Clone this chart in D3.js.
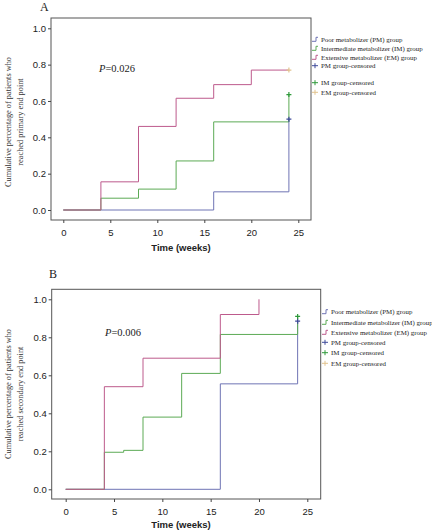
<!DOCTYPE html>
<html><head><meta charset="utf-8">
<script src="https://cdn.jsdelivr.net/npm/d3@7/dist/d3.min.js"></script>
<style>body{margin:0;background:#fff}svg{display:block}</style>
</head><body>
<svg id="c" width="432" height="531"></svg>
<script>
// ---- Data ----
const xTicks = [0, 5, 10, 15, 20, 25];
const yTicks = [0, 0.2, 0.4, 0.6, 0.8, 1.0];
const legendLabels = [
  "Poor metabolizer (PM) group",
  "Intermediate metabolizer (IM) group",
  "Extensive metabolizer (EM) group",
  "PM group-censored",
  "IM group-censored",
  "EM group-censored"
];
// Panel A: primary end point (step times, cumulative values)
const aPM_t = [0, 16, 24];        const aPM_v = [0, 0.10, 0.50];
const aIM_t = [0, 4, 8, 12, 16, 24]; const aIM_v = [0, 0.065, 0.115, 0.27, 0.485, 0.635];
const aEM_t = [0, 4, 8, 12, 16, 20, 24]; const aEM_v = [0, 0.155, 0.46, 0.615, 0.69, 0.77, 0.77];
const aCens = [[24, 0.50, "PM"], [24, 0.635, "IM"], [24, 0.77, "EM"]];
// Panel B: secondary end point
const bPM_t = [0, 16, 24];        const bPM_v = [0, 0.555, 0.885];
const bIM_t = [0, 4, 6, 8, 12, 16, 24]; const bIM_v = [0, 0.195, 0.205, 0.38, 0.61, 0.815, 0.91];
const bEM_t = [0, 4, 8, 16, 20];   const bEM_v = [0, 0.54, 0.69, 0.92, 1.0];
const bCens = [[24, 0.885, "PM"], [24, 0.91, "IM"]];

const colors = {PM: "#6f74b4", IM: "#5caa55", EM: "#bd5a8c"};
const censColors = {PM: "#3f4a9a", IM: "#2e9a3a", EM: "#e2c38e"};

const svg = d3.select("#c");

function panel(cfg) {
  const g = svg.append("g");
  const x = d3.scaleLinear().domain([0, 25]).range([cfg.x0, cfg.x25]);
  const y = d3.scaleLinear().domain([0, 1]).range([cfg.y0, cfg.y1]);
  // frame
  g.append("rect").attr("x", cfg.left).attr("y", cfg.top)
    .attr("width", cfg.right - cfg.left).attr("height", cfg.bottom - cfg.top)
    .attr("fill", "none").attr("stroke", "#555").attr("stroke-width", 1);
  // axes
  const yAx = g.append("g").attr("transform", `translate(${cfg.left},0)`)
    .call(d3.axisLeft(y).tickValues(yTicks).tickFormat(d3.format(".1f")).tickSize(3).tickPadding(2));
  const xAx = g.append("g").attr("transform", `translate(0,${cfg.bottom})`)
    .call(d3.axisBottom(x).tickValues(xTicks).tickFormat(d3.format("d")).tickSize(3).tickPadding(6));
  [yAx, xAx].forEach(a => {
    a.select(".domain").remove();
    a.selectAll("line").attr("stroke", "#444");
    a.selectAll("text").attr("font-family", "Liberation Sans, Arial, sans-serif")
      .attr("font-size", 9.5).attr("fill", "#222");
  });
  // axis titles
  g.append("text").attr("x", 181).attr("y", cfg.bottom + cfg.xlabOff)
    .attr("text-anchor", "middle").attr("font-family", "Liberation Sans, Arial, sans-serif")
    .attr("font-weight", "bold").attr("font-size", 9.5).attr("fill", "#222").text("Time (weeks)");
  const yl = g.append("text").attr("transform", `translate(0,${cfg.ylabY}) rotate(-90)`)
    .attr("text-anchor", "middle").attr("font-family", "Liberation Serif, Times New Roman, serif")
    .attr("font-size", 8.3).attr("fill", "#333");
  yl.append("tspan").attr("x", 0).attr("y", 11).text("Cumulative percentage of patients who");
  yl.append("tspan").attr("x", 0).attr("y", 23).text(cfg.ylab2);
  // panel letter
  g.append("text").attr("x", cfg.letterX).attr("y", cfg.letterY)
    .attr("font-family", "Liberation Serif, Times New Roman, serif").attr("font-size", 12)
    .attr("fill", "#222").text(cfg.letter);
  // P value
  const pt = g.append("text").attr("x", cfg.pX).attr("y", cfg.pY)
    .attr("font-family", "Liberation Serif, Times New Roman, serif").attr("font-size", 10.5).attr("fill", "#222");
  pt.append("tspan").attr("font-style", "italic").text("P");
  pt.append("tspan").text("=" + cfg.p);
  // curves
  const line = d3.line().x(d => x(d[0])).y(d => y(d[1])).curve(d3.curveStepAfter);
  ["PM", "IM", "EM"].forEach(k => {
    const t = cfg.series[k][0], v = cfg.series[k][1];
    const pts = t.map((d, i) => [d, v[i]]);
    g.append("path").attr("d", line(pts)).attr("fill", "none")
      .attr("stroke", colors[k]).attr("stroke-width", 1);
  });
  // censored marks
  cfg.cens.forEach(c => {
    const cx = x(c[0]), cy = y(c[1]);
    g.append("path").attr("d", `M${cx - 2.5},${cy}H${cx + 2.5}M${cx},${cy - 2.5}V${cy + 2.5}`)
      .attr("stroke", censColors[c[2]]).attr("stroke-width", 1.2).attr("fill", "none");
  });
  // legend
  const keys = ["PM", "IM", "EM", "PM", "IM", "EM"];
  legendLabels.forEach((lab, i) => {
    const ly = cfg.legY[i], sx = cfg.legX;
    if (i < 3) {
      g.append("path").attr("d", `M${sx},${ly + 2}H${sx + 4}V${ly - 2}H${sx + 6}`)
        .attr("stroke", colors[keys[i]]).attr("fill", "none").attr("stroke-width", 1);
    } else {
      g.append("path").attr("d", `M${sx},${ly}H${sx + 6}M${sx + 3},${ly - 2.5}V${ly + 2.5}`)
        .attr("stroke", censColors[keys[i]]).attr("fill", "none").attr("stroke-width", 1);
    }
    g.append("text").attr("x", sx + 9).attr("y", ly + 2.5)
      .attr("font-family", "Liberation Serif, Times New Roman, serif").attr("font-size", 6.9)
      .attr("fill", "#222").text(lab);
  });
}

panel({
  left: 51, right: 311, top: 18, bottom: 220,
  x0: 63.3, x25: 298.3, y0: 210, y1: 28.3,
  ylabY: 122, ylab2: "reached primary end point", xlabOff: 31,
  letter: "A", letterX: 40, letterY: 11,
  pX: 99, pY: 72, p: "0.026",
  series: {PM: [aPM_t, aPM_v], IM: [aIM_t, aIM_v], EM: [aEM_t, aEM_v]},
  cens: aCens,
  legX: 312, legY: [39.3, 48.3, 57.3, 65.7, 82.7, 92.3]
});
panel({
  left: 51.7, right: 320.7, top: 289.3, bottom: 499,
  x0: 65.7, x25: 307.3, y0: 489.3, y1: 299.3,
  ylabY: 394, ylab2: "reached secondary end point", xlabOff: 29,
  letter: "B", letterX: 49, letterY: 278,
  pX: 105, pY: 335.5, p: "0.006",
  series: {PM: [bPM_t, bPM_v], IM: [bIM_t, bIM_v], EM: [bEM_t, bEM_v]},
  cens: bCens,
  legX: 322, legY: [311.7, 322.3, 332.3, 342.3, 352.7, 363.3]
});
</script>
</body></html>
